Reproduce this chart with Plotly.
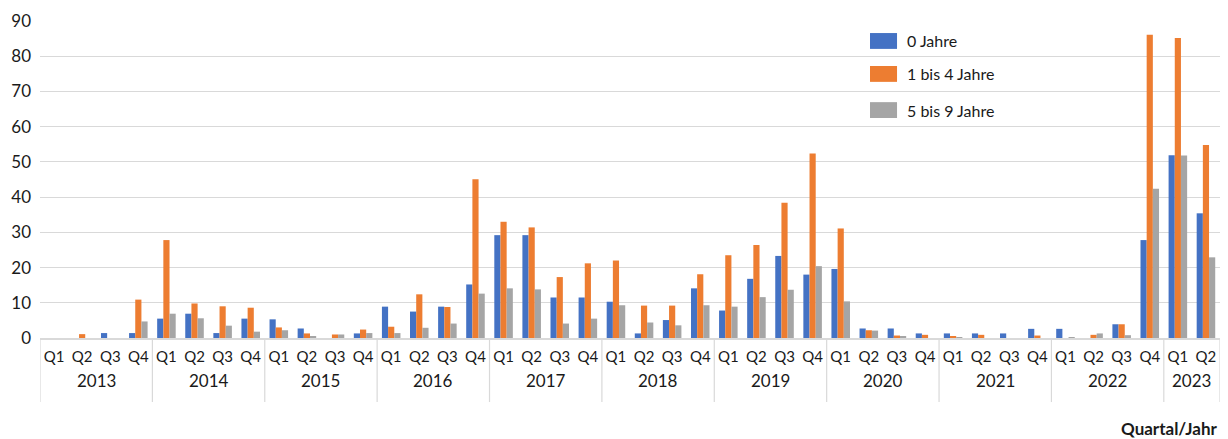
import plotly.graph_objects as go

years = ["2013"] * 4 + ["2014"] * 4 + ["2015"] * 4 + ["2016"] * 4 + ["2017"] * 4 + ["2018"] * 4 \
    + ["2019"] * 4 + ["2020"] * 4 + ["2021"] * 4 + ["2022"] * 4 + ["2023"] * 2
quarters = ["Q1", "Q2", "Q3", "Q4"] * 10 + ["Q1", "Q2"]

# values per quarter, 2013 Q1 .. 2023 Q2
age_0 = [0, 0, 1.4, 1.4, 5.5, 6.9, 1.4, 5.5, 5.3, 2.7, 0, 1.3,
         8.9, 7.5, 8.9, 15.2, 29.2, 29.2, 11.5, 11.5, 10.3, 1.3, 5.1, 14.1,
         7.8, 16.8, 23.3, 18.0, 19.6, 2.7, 2.7, 1.3, 1.3, 1.3, 1.3, 2.6,
         2.6, 0, 3.9, 27.8, 51.9, 35.4]
age_1_4 = [0, 1.1, 0, 10.9, 27.8, 9.8, 9.0, 8.6, 3.0, 1.3, 1.0, 2.4,
           3.2, 12.4, 8.8, 45.1, 33.0, 31.4, 17.3, 21.2, 22.0, 9.2, 9.2, 18.1,
           23.5, 26.4, 38.4, 52.4, 31.1, 2.2, 0.7, 0.9, 0.4, 0.9, 0, 0.7,
           0, 0.9, 3.9, 86.1, 85.2, 54.8]
age_5_9 = [0, 0, 0, 4.7, 6.9, 5.6, 3.5, 1.8, 2.2, 0.3, 1.0, 1.4,
           1.4, 2.9, 4.1, 12.6, 14.1, 13.8, 4.1, 5.5, 9.3, 4.4, 3.6, 9.3,
           8.9, 11.6, 13.7, 20.4, 10.4, 2.1, 0.5, 0, 0.2, 0, 0, 0,
           0.2, 1.3, 0.8, 42.4, 51.8, 22.9]

series = [
    ("0 Jahre", age_0, "#4472C4"),
    ("1 bis 4 Jahre", age_1_4, "#ED7D31"),
    ("5 bis 9 Jahre", age_5_9, "#A5A5A5"),
]

cats = [f"{y} {q}" for y, q in zip(years, quarters)]

fig = go.Figure()
for name, vals, color in series:
    fig.add_trace(go.Bar(
        x=cats, y=vals, name=name, showlegend=False,
        marker=dict(color=color, line=dict(width=0)),
    ))

shapes, annotations = [], []

# hand-made legend so the swatches get the wide Excel look
legend_rows = [(0.962, 0.912), (0.858, 0.808), (0.744, 0.694)]
for (name, _, color), (y0, y1) in zip(series, legend_rows):
    shapes.append(dict(type="rect", xref="paper", yref="paper",
                       x0=0.7034, x1=0.7263, y0=y1, y1=y0,
                       fillcolor=color, line=dict(width=0)))
    annotations.append(dict(text=name, xref="paper", yref="paper",
                            x=0.733, y=(y0 + y1) / 2, xanchor="left",
                            yanchor="middle", showarrow=False,
                            font=dict(size=16)))

# year row under the quarter labels, with dividers between years
year_list = list(dict.fromkeys(years))
start = 0
for yr in year_list:
    n = years.count(yr)
    shapes.append(dict(type="line", xref="x", yref="paper",
                       x0=start - 0.5, x1=start - 0.5, y0=0, y1=-0.202,
                       line=dict(color="#d9d9d9", width=1.2)))
    annotations.append(dict(text=yr, xref="x", yref="paper",
                            x=start + (n - 1) / 2, y=-0.1325,
                            xanchor="center", yanchor="middle",
                            showarrow=False, font=dict(size=17)))
    start += n
shapes.append(dict(type="line", xref="x", yref="paper",
                   x0=start - 0.5, x1=start - 0.5, y0=0, y1=-0.202,
                   line=dict(color="#d9d9d9", width=1.2)))

annotations.append(dict(text="<b>Quartal/Jahr</b>", xref="paper", yref="paper",
                        x=1.0, y=-0.284, xanchor="right", yanchor="middle",
                        showarrow=False, font=dict(size=17)))

# the page body has an 8px margin, so the figure is 8px smaller than the window
fig.update_layout(
    width=1220, height=431,
    margin=dict(l=32, r=8, t=13, b=93 + 8, autoexpand=False),
    paper_bgcolor="white", plot_bgcolor="white",
    font=dict(family="Lato, Open Sans, sans-serif", size=15, color="#1a1a1a"),
    barmode="group", bargap=0.34, bargroupgap=0,
    showlegend=False,
    xaxis=dict(type="category", showline=True, linecolor="#d9d9d9",
               linewidth=1.5, tickvals=cats, ticktext=quarters,
               tickfont=dict(size=15), tickangle=0, showgrid=False,
               ticks="", ticklabelstandoff=4, range=[-0.5, len(cats) - 0.5],
               automargin=False),
    yaxis=dict(range=[0, 90], dtick=10, showgrid=True, gridcolor="#d9d9d9",
               gridwidth=1, zeroline=False, tickfont=dict(size=17),
               ticks="", ticklabelstandoff=8, automargin=False),
    shapes=shapes,
    annotations=annotations,
)

fig.write_html("out.html")
